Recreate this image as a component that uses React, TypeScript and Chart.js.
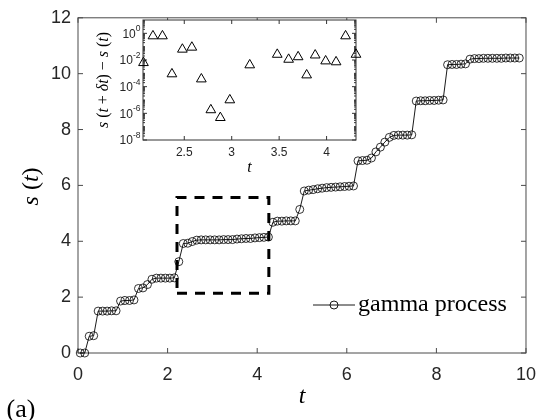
import React, { useEffect, useRef } from 'react';
import { Chart, registerables } from 'chart.js';

Chart.register(...registerables);

// ---------- main series ----------
const tValues = [
  0.05, 0.15, 0.25, 0.35, 0.45, 0.55, 0.65, 0.75, 0.85, 0.95,
  1.05, 1.15, 1.25, 1.35, 1.45, 1.55, 1.65, 1.75, 1.85, 1.95,
  2.05, 2.15, 2.25, 2.35, 2.45, 2.55, 2.65, 2.75, 2.85, 2.95,
  3.05, 3.15, 3.25, 3.35, 3.45, 3.55, 3.65, 3.75, 3.85, 3.95,
  4.05, 4.15, 4.25, 4.35, 4.45, 4.55, 4.65, 4.75, 4.85, 4.95,
  5.05, 5.15, 5.25, 5.35, 5.45, 5.55, 5.65, 5.75, 5.85, 5.95,
  6.05, 6.15, 6.25, 6.35, 6.45, 6.55, 6.65, 6.75, 6.85, 6.95,
  7.05, 7.15, 7.25, 7.35, 7.45, 7.55, 7.65, 7.75, 7.85, 7.95,
  8.05, 8.15, 8.25, 8.35, 8.45, 8.55, 8.65, 8.75, 8.85, 8.95,
  9.05, 9.15, 9.25, 9.35, 9.45, 9.55, 9.65, 9.75, 9.85,
];
const sValues = [
  0, 0, 0.60, 0.62, 1.50, 1.50, 1.50, 1.51, 1.51, 1.86,
  1.88, 1.88, 1.90, 2.31, 2.33, 2.45, 2.64, 2.68, 2.68, 2.68,
  2.68, 2.69, 3.27, 3.92, 3.93, 3.99, 4.04, 4.05, 4.05, 4.05,
  4.05, 4.05, 4.06, 4.06, 4.06, 4.08, 4.09, 4.10, 4.10, 4.12,
  4.13, 4.14, 4.15, 4.68, 4.72, 4.72, 4.73, 4.73, 4.73, 5.14,
  5.80, 5.83, 5.85, 5.88, 5.90, 5.92, 5.93, 5.94, 5.95, 5.96,
  5.97, 5.98, 6.88, 6.89, 6.90, 6.98, 7.20, 7.37, 7.55, 7.72,
  7.79, 7.80, 7.80, 7.80, 7.81, 9.02, 9.03, 9.03, 9.04, 9.04,
  9.05, 9.06, 10.32, 10.33, 10.33, 10.34, 10.35, 10.52, 10.54, 10.54,
  10.55, 10.55, 10.55, 10.55, 10.55, 10.56, 10.56, 10.56, 10.56,
];
const xTicks = [0, 2, 4, 6, 8, 10];
const yTicks = [0, 2, 4, 6, 8, 10, 12];

// dashed zoom box (t range, s range)
const boxT = [2.21, 4.26];
const boxS = [2.14, 5.57];

// ---------- inset series ----------
const insetT = [
  2.07, 2.17, 2.27, 2.37, 2.48, 2.58, 2.68, 2.78, 2.88, 2.98,
  3.19, 3.48, 3.6, 3.7, 3.79, 3.88, 3.99, 4.1, 4.2, 4.31,
];
const insetDiff = [
  6.2e-3, 0.63, 0.63, 8.9e-4, 0.063, 0.089, 3.7e-4, 1.8e-6, 4.7e-7, 1.0e-5,
  4.2e-3, 0.026, 0.011, 0.017, 7.4e-4, 0.023, 8.3e-3, 7.1e-3, 0.63, 0.026,
];
const insetXTicks = [2.5, 3, 3.5, 4];
const insetYExps = [-8, -6, -4, -2, 0];

const SERIF = '"Liberation Serif", "Times New Roman", serif';
const SANS = '"Liberation Sans", Arial, Helvetica, sans-serif';
const AXIS = '#4a4a4a';
const TXT = '#262626';

type Piece = { text: string; italic?: boolean };

function setFont(ctx: CanvasRenderingContext2D, size: number, italic: boolean) {
  ctx.font = `${italic ? 'italic ' : ''}${size}px ${SERIF}`;
}
function measureRich(ctx: CanvasRenderingContext2D, pieces: Piece[], size: number) {
  let w = 0;
  for (const p of pieces) {
    setFont(ctx, size, !!p.italic);
    w += ctx.measureText(p.text).width;
  }
  return w;
}
function drawRich(
  ctx: CanvasRenderingContext2D,
  pieces: Piece[],
  x0: number,
  y0: number,
  size: number,
  opts: { align?: 'left' | 'center'; angle?: number; fitWidth?: number } = {}
) {
  let s = size;
  if (opts.fitWidth) s = (size * opts.fitWidth) / measureRich(ctx, pieces, size);
  const w = measureRich(ctx, pieces, s);
  ctx.save();
  ctx.translate(x0, y0);
  if (opts.angle) ctx.rotate(opts.angle);
  let x = opts.align === 'left' ? 0 : -w / 2;
  ctx.textBaseline = 'middle';
  ctx.textAlign = 'left';
  ctx.fillStyle = '#000';
  for (const p of pieces) {
    setFont(ctx, s, !!p.italic);
    ctx.fillText(p.text, x, 0);
    x += ctx.measureText(p.text).width;
  }
  ctx.restore();
}

const mainDeco = {
  id: 'mainDeco',
  beforeDatasetsDraw(chart: any) {
    const { ctx, chartArea: a, scales } = chart;
    ctx.save();
    ctx.strokeStyle = AXIS;
    ctx.lineWidth = 1;
    ctx.strokeRect(a.left, a.top, a.right - a.left, a.bottom - a.top);
    ctx.beginPath();
    for (const v of xTicks) {
      const px = scales.x.getPixelForValue(v);
      ctx.moveTo(px, a.bottom);
      ctx.lineTo(px, a.bottom - 5);
      ctx.moveTo(px, a.top);
      ctx.lineTo(px, a.top + 5);
    }
    for (const v of yTicks) {
      const py = scales.y.getPixelForValue(v);
      ctx.moveTo(a.left, py);
      ctx.lineTo(a.left + 5, py);
      ctx.moveTo(a.right, py);
      ctx.lineTo(a.right - 5, py);
    }
    ctx.stroke();
    ctx.restore();
  },
  afterDraw(chart: any) {
    const { ctx, chartArea: a } = chart;
    const cx = (a.left + a.right) / 2;
    const cy = (a.top + a.bottom) / 2;
    // axis titles
    drawRich(ctx, [{ text: 't', italic: true }], cx, 397, 24);
    drawRich(
      ctx,
      [
        { text: 's', italic: true },
        { text: ' (' },
        { text: 't', italic: true },
        { text: ')' },
      ],
      32,
      cy + 1,
      24,
      { angle: -Math.PI / 2, fitWidth: 38 }
    );
    drawRich(ctx, [{ text: '(a)' }], 21, 410, 26);
    // legend
    ctx.save();
    ctx.strokeStyle = '#000';
    ctx.lineWidth = 0.9;
    ctx.beginPath();
    ctx.moveTo(313, 305);
    ctx.lineTo(355, 305);
    ctx.stroke();
    ctx.beginPath();
    ctx.arc(334, 305, 4, 0, Math.PI * 2);
    ctx.stroke();
    ctx.restore();
    drawRich(ctx, [{ text: 'gamma process' }], 358, 305, 24, { align: 'left', fitWidth: 149 });
  },
};

const insetDeco = {
  id: 'insetDeco',
  beforeDatasetsDraw(chart: any) {
    const { ctx, chartArea: a, scales } = chart;
    ctx.save();
    ctx.fillStyle = '#fff';
    ctx.fillRect(a.left, a.top, a.right - a.left, a.bottom - a.top);
    ctx.strokeStyle = '#333';
    ctx.lineWidth = 1;
    ctx.strokeRect(a.left, a.top, a.right - a.left, a.bottom - a.top);
    ctx.beginPath();
    for (const v of insetXTicks) {
      const px = scales.x.getPixelForValue(v);
      ctx.moveTo(px, a.bottom);
      ctx.lineTo(px, a.bottom - 4);
      ctx.moveTo(px, a.top);
      ctx.lineTo(px, a.top + 4);
    }
    for (let e = -8; e <= 0; e++) {
      for (let m = 1; m <= 9; m++) {
        const v = m * Math.pow(10, e);
        const py = scales.y.getPixelForValue(v);
        if (py < a.top - 0.5 || py > a.bottom + 0.5) continue;
        const len = m === 1 && insetYExps.includes(e) ? 4 : 2;
        ctx.moveTo(a.left, py);
        ctx.lineTo(a.left + len, py);
        ctx.moveTo(a.right, py);
        ctx.lineTo(a.right - len, py);
      }
    }
    ctx.stroke();
    ctx.restore();
  },
  afterDraw(chart: any) {
    const { ctx, chartArea: a, scales } = chart;
    ctx.save();
    ctx.fillStyle = TXT;
    ctx.textBaseline = 'middle';
    ctx.textAlign = 'right';
    const right = a.left - 2.5;
    for (const e of insetYExps) {
      const py = scales.y.getPixelForValue(Math.pow(10, e));
      const exp = String(e);
      ctx.font = `8.5px ${SANS}`;
      const ew = ctx.measureText(exp).width;
      ctx.fillText(exp, right, py - 4.5);
      ctx.font = `12px ${SANS}`;
      ctx.fillText('10', right - ew, py + 1);
    }
    ctx.restore();
    drawRich(ctx, [{ text: 't', italic: true }], (a.left + a.right) / 2, 158, 16);
    drawRich(
      ctx,
      [
        { text: 's', italic: true },
        { text: ' (' },
        { text: 't', italic: true },
        { text: ' + ' },
        { text: 'δt', italic: true },
        { text: ') − ' },
        { text: 's', italic: true },
        { text: ' (' },
        { text: 't', italic: true },
        { text: ')' },
      ],
      16,
      (a.top + a.bottom) / 2,
      14,
      { angle: -Math.PI / 2, fitWidth: 96 }
    );
  },
};

export default function App() {
  const mainRef = useRef<HTMLCanvasElement>(null);
  const insetRef = useRef<HTMLCanvasElement>(null);

  useEffect(() => {
    const mainData = tValues.map((t, i) => ({ x: t, y: sValues[i] }));
    const boxData = [
      { x: boxT[0], y: boxS[0] },
      { x: boxT[1], y: boxS[0] },
      { x: boxT[1], y: boxS[1] },
      { x: boxT[0], y: boxS[1] },
      { x: boxT[0], y: boxS[0] },
    ];
    const main = new Chart(mainRef.current as HTMLCanvasElement, {
      type: 'scatter',
      data: {
        datasets: [
          {
            data: mainData,
            showLine: true,
            borderColor: '#000',
            borderWidth: 0.9,
            pointStyle: 'circle',
            pointRadius: 4,
            pointBorderWidth: 0.8,
            pointBorderColor: '#000',
            pointBackgroundColor: 'rgba(0,0,0,0)',
            clip: false as any,
          },
          {
            data: boxData,
            showLine: true,
            borderColor: '#000',
            borderWidth: 3,
            borderDash: [10, 8],
            pointRadius: 0,
            clip: false as any,
          },
        ],
      },
      options: {
        responsive: false,
        animation: false,
        events: [],
        layout: { padding: { left: 0, right: 11, top: 9, bottom: 0 } },
        plugins: { legend: { display: false }, tooltip: { enabled: false } },
        scales: {
          x: {
            type: 'linear',
            min: 0,
            max: 10,
            afterBuildTicks: (s: any) => {
              s.ticks = xTicks.map((v) => ({ value: v }));
            },
            afterFit: (s: any) => {
              s.height = 67;
            },
            grid: { display: false, drawTicks: false },
            border: { display: false },
            ticks: {
              autoSkip: false,
              maxRotation: 0,
              padding: 11,
              color: TXT,
              font: { family: SANS, size: 18 },
              callback: (v: any) => String(v),
            },
          },
          y: {
            type: 'linear',
            min: 0,
            max: 12,
            afterBuildTicks: (s: any) => {
              s.ticks = yTicks.map((v) => ({ value: v }));
            },
            afterFit: (s: any) => {
              s.width = 78;
            },
            grid: { display: false, drawTicks: false },
            border: { display: false },
            ticks: {
              autoSkip: false,
              padding: 7,
              color: TXT,
              font: { family: SANS, size: 18 },
              callback: (v: any) => String(v),
            },
          },
        },
      },
      plugins: [mainDeco],
    } as any);

    const insetData = insetT.map((t, i) => ({ x: t, y: insetDiff[i] }));
    const inset = new Chart(insetRef.current as HTMLCanvasElement, {
      type: 'scatter',
      data: {
        datasets: [
          {
            data: insetData,
            showLine: false,
            pointStyle: 'triangle',
            pointRadius: 5.6,
            pointBorderWidth: 1,
            pointBorderColor: '#000',
            pointBackgroundColor: 'rgba(0,0,0,0)',
            clip: false as any,
          },
        ],
      },
      options: {
        responsive: false,
        animation: false,
        events: [],
        layout: { padding: { left: 0, right: 12, top: 10, bottom: 0 } },
        plugins: { legend: { display: false }, tooltip: { enabled: false } },
        scales: {
          x: {
            type: 'linear',
            min: 2.065,
            max: 4.31,
            afterBuildTicks: (s: any) => {
              s.ticks = insetXTicks.map((v) => ({ value: v }));
            },
            afterFit: (s: any) => {
              s.height = 40;
            },
            grid: { display: false, drawTicks: false },
            border: { display: false },
            ticks: {
              autoSkip: false,
              maxRotation: 0,
              padding: 5,
              color: TXT,
              font: { family: SANS, size: 12 },
              callback: (v: any) => String(v),
            },
          },
          y: {
            type: 'logarithmic',
            min: 1e-8,
            max: 10,
            afterBuildTicks: (s: any) => {
              s.ticks = insetYExps.map((e) => ({ value: Math.pow(10, e) }));
            },
            afterFit: (s: any) => {
              s.width = 55;
            },
            grid: { display: false, drawTicks: false },
            border: { display: false },
            ticks: { display: false },
          },
        },
      },
      plugins: [insetDeco],
    } as any);

    return () => {
      main.destroy();
      inset.destroy();
    };
  }, []);

  return (
    <div style={{ position: 'absolute', left: 0, top: 0, width: 547, height: 420, background: '#fff' }}>
      <canvas
        ref={mainRef}
        width={547}
        height={420}
        style={{ position: 'absolute', left: 0, top: 0, width: 547, height: 420 }}
      />
      <canvas
        ref={insetRef}
        width={280}
        height={170}
        style={{ position: 'absolute', left: 88, top: 10, width: 280, height: 170 }}
      />
    </div>
  );
}
